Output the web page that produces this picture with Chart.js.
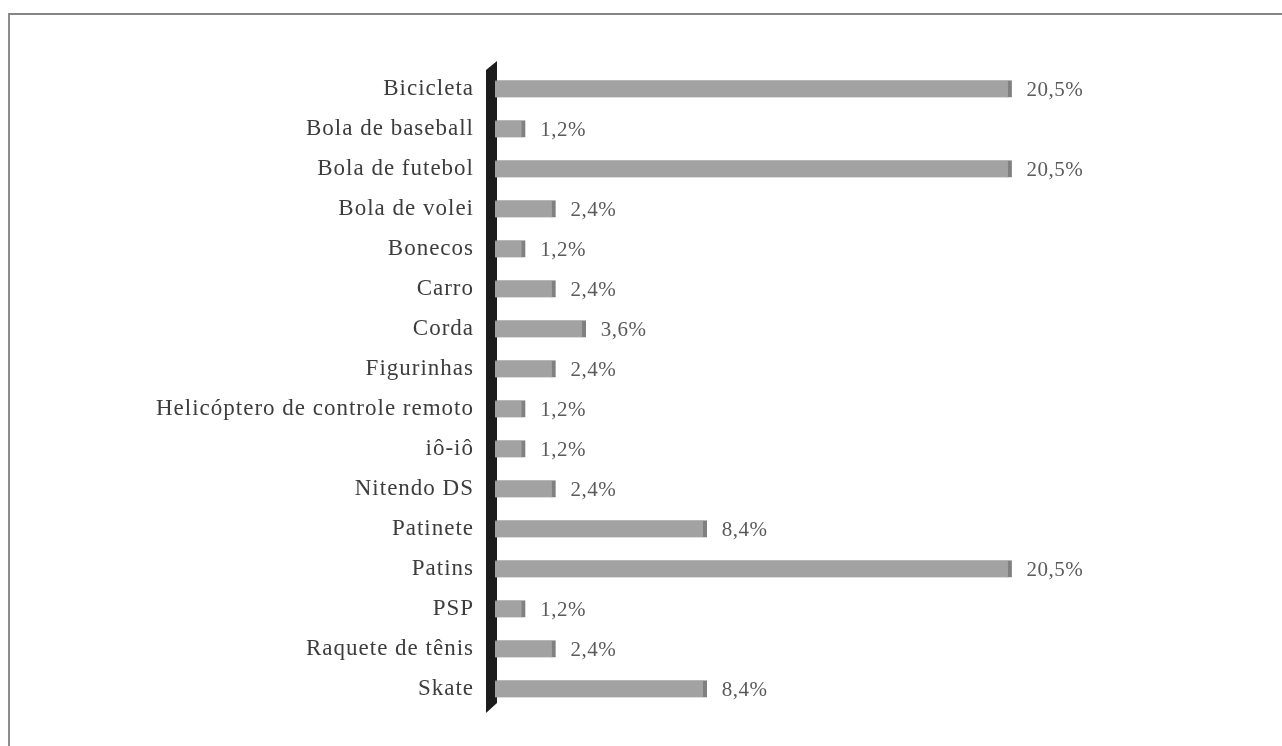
<!DOCTYPE html>
<html lang="pt-BR">
<head>
<meta charset="utf-8">
<title>Brinquedos preferidos</title>
<script src="https://cdn.jsdelivr.net/npm/chart.js@4.4.1/dist/chart.umd.min.js"></script>
<style>
  html, body { margin: 0; padding: 0; background: #ffffff; }
  #wrap { position: relative; width: 1282px; height: 746px; overflow: hidden; }
  #frame {
    position: absolute; left: 8px; top: 13px; width: 1400px; height: 900px;
    border-top: 2px solid #858585; border-left: 2px solid #8c8c8c;
    pointer-events: none;
  }
  canvas { display: block; }
</style>
</head>
<body>
<div id="wrap">
  <canvas id="chart" width="1282" height="746"></canvas>
  <div id="frame"></div>
</div>
<script>
// Brinquedos citados e percentual de respostas
const categories = [
  'Bicicleta', 'Bola de baseball', 'Bola de futebol', 'Bola de volei', 'Bonecos',
  'Carro', 'Corda', 'Figurinhas', 'Helicóptero de controle remoto', 'iô-iô',
  'Nitendo DS', 'Patinete', 'Patins', 'PSP', 'Raquete de tênis', 'Skate'
];
const percentages = [20.5, 1.2, 20.5, 2.4, 1.2, 2.4, 3.6, 2.4, 1.2, 1.2, 2.4, 8.4, 20.5, 1.2, 2.4, 8.4];
const valueLabels = percentages.map(v => v.toFixed(1).replace('.', ',') + '%');

const serif = '"Liberation Serif", "Times New Roman", serif';

// Slightly open letter spacing for the category names
const spacingPlugin = {
  id: 'labelSpacing',
  beforeDraw(chart) { chart.ctx.letterSpacing = '1px'; },
  beforeDatasetsDraw(chart) { chart.ctx.letterSpacing = '0px'; }
};

// Dark slanted wall behind the bars' base
const wallPlugin = {
  id: 'wall',
  beforeDatasetsDraw(chart) {
    const { ctx, chartArea } = chart;
    const L = chartArea.left - 9, R = chartArea.left + 2;
    ctx.save();
    ctx.fillStyle = '#1c1c1c';
    ctx.beginPath();
    ctx.moveTo(L, chartArea.top + 1);
    ctx.lineTo(R, chartArea.top - 8);
    ctx.lineTo(R, chartArea.bottom - 6);
    ctx.lineTo(L, chartArea.bottom + 4);
    ctx.closePath();
    ctx.fill();
    ctx.restore();
  }
};

// Percentage text to the right of each bar
const valueLabelPlugin = {
  id: 'valueLabels',
  afterDatasetsDraw(chart) {
    const { ctx } = chart;
    const meta = chart.getDatasetMeta(0);
    ctx.save();
    ctx.letterSpacing = '0.5px';
    ctx.font = '21px ' + serif;
    ctx.fillStyle = '#5a5a5a';
    ctx.textAlign = 'left';
    ctx.textBaseline = 'middle';
    meta.data.forEach((bar, i) => {
      ctx.fillText(valueLabels[i], bar.x + 15, bar.y + 1);
    });
    ctx.restore();
  }
};

new Chart(document.getElementById('chart'), {
  type: 'bar',
  data: {
    labels: categories,
    datasets: [{
      data: percentages,
      backgroundColor: '#a2a2a2',
      borderColor: '#808080',
      borderWidth: { top: 1, right: 4, bottom: 0, left: 0 },
      borderSkipped: false,
      barThickness: 17
    }]
  },
  options: {
    indexAxis: 'y',
    responsive: false,
    devicePixelRatio: 1,
    animation: false,
    layout: { padding: { top: 69, bottom: 37, left: 0, right: 31 } },
    plugins: {
      legend: { display: false },
      tooltip: { enabled: false }
    },
    scales: {
      x: {
        display: false,
        min: 0,
        max: 30
      },
      y: {
        afterFit(scale) { scale.width = 495; },
        grid: { display: false, drawTicks: false },
        border: { display: false },
        ticks: {
          padding: 21,
          color: '#3c3c3c',
          font: { family: serif, size: 23 }
        }
      }
    }
  },
  plugins: [spacingPlugin, wallPlugin, valueLabelPlugin]
});
</script>
</body>
</html>
